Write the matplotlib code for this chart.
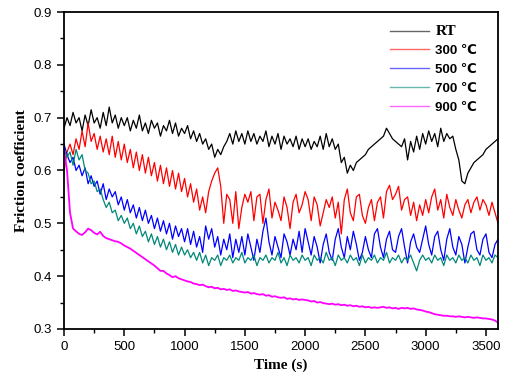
import matplotlib
matplotlib.use('Agg')
import matplotlib.pyplot as plt
from matplotlib.ticker import MultipleLocator
import numpy as np

# time axis, one reading every 25 s
time_s = np.arange(0, 3601, 25)

# friction coefficient
mu_rt = [0.68, 0.70, 0.685, 0.71, 0.69, 0.70, 0.675, 0.705, 0.685, 0.715,
         0.69, 0.70, 0.68, 0.71, 0.685, 0.72, 0.69, 0.705, 0.68, 0.70,
         0.685, 0.70, 0.675, 0.695, 0.68, 0.705, 0.675, 0.69, 0.67, 0.695,
         0.68, 0.69, 0.665, 0.685, 0.675, 0.695, 0.67, 0.69, 0.665, 0.68,
         0.67, 0.685, 0.66, 0.675, 0.655, 0.67, 0.65, 0.66, 0.64, 0.65,
         0.625, 0.64, 0.63, 0.645, 0.655, 0.67, 0.65, 0.675, 0.655, 0.67,
         0.65, 0.675, 0.655, 0.67, 0.65, 0.665, 0.655, 0.675, 0.645, 0.665,
         0.65, 0.67, 0.64, 0.665, 0.65, 0.66, 0.645, 0.665, 0.64, 0.66,
         0.645, 0.66, 0.64, 0.655, 0.645, 0.665, 0.64, 0.67, 0.645, 0.66,
         0.64, 0.65, 0.615, 0.625, 0.595, 0.61, 0.60, 0.615, 0.62, 0.625,
         0.63, 0.64, 0.645, 0.65, 0.655, 0.66, 0.665, 0.68, 0.67, 0.66,
         0.655, 0.65, 0.645, 0.66, 0.62, 0.655, 0.635, 0.665, 0.64, 0.67,
         0.65, 0.675, 0.655, 0.67, 0.645, 0.68, 0.655, 0.67, 0.66, 0.665,
         0.64, 0.62, 0.58, 0.575, 0.595, 0.605, 0.615, 0.62, 0.625, 0.63,
         0.64, 0.645, 0.65, 0.655, 0.66]
mu_300 = [0.60, 0.635, 0.65, 0.63, 0.66, 0.64, 0.675, 0.645, 0.69, 0.655,
          0.67, 0.64, 0.665, 0.635, 0.66, 0.63, 0.665, 0.625, 0.655, 0.62,
          0.65, 0.615, 0.64, 0.605, 0.635, 0.60, 0.63, 0.595, 0.625, 0.59,
          0.615, 0.58, 0.61, 0.575, 0.605, 0.57, 0.60, 0.565, 0.595, 0.56,
          0.585, 0.55, 0.575, 0.54, 0.565, 0.525, 0.55, 0.52, 0.56, 0.58,
          0.595, 0.605, 0.57, 0.50, 0.555, 0.545, 0.50, 0.56, 0.49, 0.53,
          0.555, 0.54, 0.56, 0.505, 0.55, 0.555, 0.50, 0.545, 0.565, 0.51,
          0.54, 0.525, 0.505, 0.55, 0.53, 0.49, 0.54, 0.555, 0.52, 0.535,
          0.56, 0.545, 0.505, 0.55, 0.535, 0.495, 0.52, 0.545, 0.53, 0.55,
          0.51, 0.54, 0.48, 0.545, 0.565, 0.52, 0.505, 0.55, 0.555, 0.515,
          0.50, 0.53, 0.545, 0.505, 0.54, 0.55, 0.51, 0.56, 0.572, 0.545,
          0.555, 0.57, 0.525, 0.545, 0.55, 0.515, 0.54, 0.505, 0.535, 0.515,
          0.545, 0.52, 0.55, 0.565, 0.525, 0.545, 0.51, 0.555, 0.53, 0.515,
          0.545, 0.525, 0.51, 0.535, 0.545, 0.52, 0.54, 0.55, 0.525, 0.545,
          0.535, 0.515, 0.54, 0.52, 0.50]
mu_500 = [0.65, 0.63, 0.615, 0.625, 0.60, 0.61, 0.59, 0.605, 0.575, 0.59,
          0.57, 0.58, 0.555, 0.575, 0.545, 0.565, 0.55, 0.56, 0.535, 0.55,
          0.525, 0.545, 0.52, 0.535, 0.51, 0.53, 0.505, 0.525, 0.50, 0.515,
          0.49, 0.51, 0.485, 0.505, 0.48, 0.50, 0.47, 0.495, 0.475, 0.49,
          0.465, 0.49, 0.46, 0.485, 0.455, 0.475, 0.445, 0.495, 0.47, 0.49,
          0.455, 0.475, 0.44, 0.47, 0.45, 0.48, 0.435, 0.47, 0.445, 0.475,
          0.44, 0.48, 0.455, 0.43, 0.47, 0.445, 0.485, 0.51, 0.465, 0.44,
          0.475, 0.455, 0.435, 0.48, 0.465, 0.44, 0.47, 0.45, 0.485, 0.445,
          0.49, 0.465, 0.44, 0.475, 0.455, 0.425, 0.46, 0.48, 0.445, 0.43,
          0.47, 0.49, 0.455, 0.435, 0.475, 0.45, 0.485, 0.46, 0.43, 0.445,
          0.475, 0.45, 0.435, 0.48, 0.49, 0.455, 0.435, 0.47, 0.485, 0.45,
          0.445, 0.475, 0.49, 0.455, 0.425, 0.465, 0.48, 0.455, 0.445, 0.47,
          0.495, 0.46, 0.44, 0.475, 0.485, 0.45, 0.43, 0.47, 0.49, 0.455,
          0.44, 0.475, 0.46, 0.425, 0.455, 0.48, 0.485, 0.45, 0.44, 0.47,
          0.48, 0.445, 0.435, 0.46, 0.47]
mu_700 = [0.64, 0.625, 0.635, 0.61, 0.64, 0.62, 0.63, 0.60, 0.595, 0.575,
          0.58, 0.56, 0.565, 0.545, 0.53, 0.54, 0.52, 0.525, 0.505, 0.515,
          0.50, 0.51, 0.49, 0.50, 0.48, 0.495, 0.475, 0.485, 0.465, 0.48,
          0.46, 0.475, 0.455, 0.47, 0.45, 0.465, 0.445, 0.46, 0.44, 0.455,
          0.44, 0.45, 0.435, 0.445, 0.43, 0.445, 0.425, 0.44, 0.42, 0.435,
          0.43, 0.44, 0.42, 0.435, 0.43, 0.44, 0.425, 0.435, 0.43, 0.445,
          0.425, 0.435, 0.43, 0.44, 0.42, 0.435, 0.43, 0.44, 0.425, 0.435,
          0.43, 0.445, 0.425, 0.435, 0.42, 0.44, 0.43, 0.435, 0.425, 0.44,
          0.43, 0.435, 0.42, 0.44, 0.43, 0.435, 0.425, 0.445, 0.43, 0.435,
          0.42, 0.44, 0.43, 0.435, 0.425, 0.44, 0.43, 0.435, 0.42, 0.44,
          0.425, 0.435, 0.43, 0.44, 0.425, 0.435, 0.43, 0.445, 0.425, 0.435,
          0.43, 0.44, 0.425, 0.435, 0.43, 0.44, 0.425, 0.41, 0.43, 0.44,
          0.43, 0.435, 0.425, 0.44, 0.43, 0.435, 0.42, 0.44, 0.43, 0.435,
          0.425, 0.44, 0.43, 0.435, 0.425, 0.44, 0.43, 0.435, 0.42, 0.44,
          0.43, 0.435, 0.425, 0.44, 0.435]
mu_900 = [0.64, 0.60, 0.52, 0.49, 0.485, 0.48, 0.478, 0.483, 0.49, 0.487,
          0.482, 0.479, 0.484, 0.476, 0.472, 0.47, 0.468, 0.466, 0.465, 0.462,
          0.458, 0.455, 0.452, 0.448, 0.444, 0.44, 0.436, 0.432, 0.428, 0.424,
          0.42, 0.415, 0.41, 0.41, 0.405, 0.402, 0.398, 0.40, 0.396, 0.394,
          0.392, 0.39, 0.389, 0.386, 0.385, 0.383, 0.384, 0.381, 0.379, 0.38,
          0.377, 0.378, 0.375, 0.376, 0.374, 0.375, 0.372, 0.373, 0.371, 0.37,
          0.369, 0.37, 0.367, 0.368, 0.366, 0.365, 0.366, 0.363, 0.364, 0.361,
          0.362, 0.36, 0.359, 0.36, 0.357, 0.358, 0.356, 0.357, 0.355, 0.356,
          0.355, 0.354, 0.352, 0.353, 0.35, 0.351, 0.349, 0.348, 0.347, 0.348,
          0.346, 0.347, 0.345, 0.346, 0.344, 0.345, 0.343, 0.344, 0.342, 0.343,
          0.341, 0.342, 0.34, 0.341, 0.34, 0.341, 0.342, 0.34, 0.341, 0.339,
          0.34, 0.338, 0.34, 0.339, 0.34, 0.338, 0.339, 0.337, 0.336, 0.335,
          0.333, 0.332, 0.33, 0.328, 0.327, 0.326, 0.325, 0.325, 0.324, 0.324,
          0.323, 0.324, 0.323, 0.322, 0.323, 0.322, 0.321, 0.322, 0.321, 0.32,
          0.32, 0.319, 0.318, 0.316, 0.312]

labels = ['RT', '300 \u2103', '500 \u2103', '700 \u2103', '900 \u2103']
colors = ['#000000', '#ff0000', '#0000ff', '#008878', '#ff00ff']
widths = [0.9, 0.9, 0.9, 0.9, 1.3]

fig = plt.figure(figsize=(5.1, 3.81), dpi=100, facecolor='white')
ax = fig.add_axes([0.1255, 0.1365, 0.851, 0.832])

for mu, lab, col, lw in zip([mu_rt, mu_300, mu_500, mu_700, mu_900], labels, colors, widths):
    ax.plot(time_s, mu, color=col, linewidth=lw, label=lab)

ax.set_xlim(0, 3600)
ax.set_ylim(0.3, 0.9)
ax.xaxis.set_major_locator(MultipleLocator(500))
ax.xaxis.set_minor_locator(MultipleLocator(250))
ax.yaxis.set_major_locator(MultipleLocator(0.1))
ax.yaxis.set_minor_locator(MultipleLocator(0.05))
ax.tick_params(which='major', direction='out', length=5, width=1.1,
               labelsize=9.5, top=False, right=False)
ax.tick_params(which='minor', direction='out', length=3, width=1.0,
               top=False, right=False)
for t in ax.get_xticklabels() + ax.get_yticklabels():
    t.set_fontfamily('Liberation Sans')
for sp in ax.spines.values():
    sp.set_linewidth(1.3)

ax.set_xlabel('Time (s)', fontfamily='Liberation Serif', fontweight='bold', fontsize=11)
ax.set_ylabel('Friction coefficient', fontfamily='Liberation Serif', fontweight='bold', fontsize=11)

leg = ax.legend(loc='upper left', bbox_to_anchor=(0.74, 0.975), frameon=False,
                handlelength=2.9, handletextpad=0.5, labelspacing=0.5,
                borderaxespad=0, prop={'family': ['Liberation Sans', 'DejaVu Sans'],
                                       'weight': 'bold', 'size': 9.5})
leg.get_texts()[0].set_fontfamily('Liberation Serif')
leg.get_texts()[0].set_fontsize(11)
for h in leg.get_lines():
    h.set_linewidth(1.0)
    h.set_alpha(0.6)

fig.savefig('out.png', dpi=100, facecolor='white')
